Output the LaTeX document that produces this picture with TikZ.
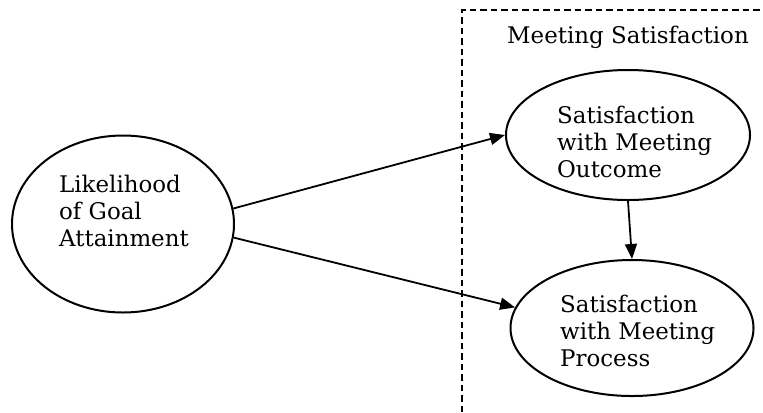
\documentclass[tikz,border=0pt]{standalone}
\usepackage{fontspec}
\setmainfont{DejaVu Serif}
\usetikzlibrary{arrows.meta, shapes.geometric}

\begin{document}
\begin{tikzpicture}[x=1bp, y=-1bp]
    \def\lw{2bp}
    \def\fs{\fontsize{23}{27}\selectfont}
    \tikzset{oval/.style={ellipse, draw, line width=\lw, inner sep=0pt}}
    \tikzset{txt/.style={align=left, inner sep=0pt, anchor=west, font=\fs}}
    \tikzset{arrow/.style={line width=1.8bp, -{Triangle[length=15bp, width=12bp]}}}
    \useasboundingbox (0, 0) rectangle (763, 412);

    \node[oval, minimum width=222bp, minimum height=177bp] (goal) at (123, 224) {};
    \node[oval, minimum width=244bp, minimum height=130bp] (outcome) at (628, 135) {};
    \node[oval, minimum width=243bp, minimum height=136bp] (process) at (632, 328) {};

    \node[txt] (goaltext) at (59, 211) {Likelihood\\of Goal\\Attainment};
    \node[txt] (outcometext) at (557, 142) {Satisfaction\\with Meeting\\Outcome};
    \node[txt] (processtext) at (560, 331) {Satisfaction\\with Meeting\\Process};

    \coordinate (boxbl) at (462, 412);
    \coordinate (boxtl) at (462, 10);
    \coordinate (boxtr) at (763, 10);
    \draw[line width=1.6bp, dash pattern=on 6.5bp off 4bp] (boxbl) -- (boxtl) -- (boxtr);
    \node[font=\fs, inner sep=0pt] (boxtitle) at (628, 37) {Meeting Satisfaction};

    \draw[arrow] (goal.8) -- (outcome.west);
    \draw[arrow] (goal.-7) -- (process.170);
    \draw[arrow] (outcome.south) -- (process.north);

\end{tikzpicture}
\end{document}
